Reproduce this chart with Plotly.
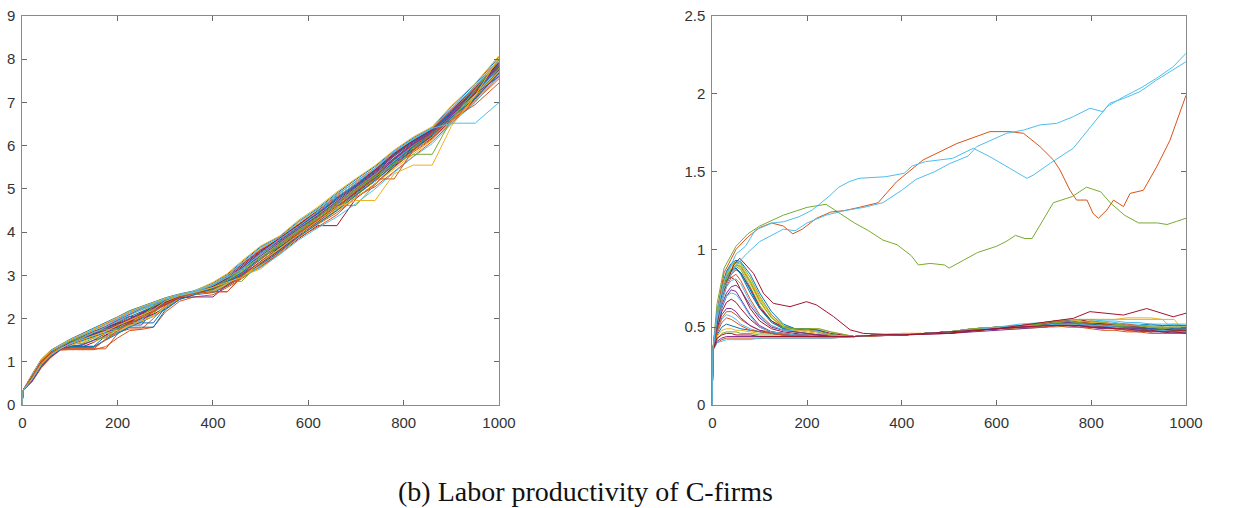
import plotly.graph_objects as go

# MATLAB default colour order
colors = ["#0072BD", "#D95319", "#EDB120", "#7E2F8E", "#77AC30", "#4DBEEE", "#A2142F"]

# ---------------- Left panel: labor productivity of every C-firm ----------------
xL = [0, 1, 20, 40, 60, 80, 100, 125, 150, 175, 200, 225, 250, 275, 300, 330, 360, 400,
      430, 460, 500, 540, 580, 620, 660, 700, 740, 780, 820, 860, 900, 950, 1000]

A1 = [0,0.33,0.70,1.06,1.27,1.40,1.52,1.65,1.78,1.90,2.04,2.18,2.28,2.38,2.48,2.57,2.64,2.82,3.02,3.30,3.66,3.90,4.25,4.55,4.90,5.22,5.52,5.88,6.18,6.42,6.90,7.42,8.05]
A2 = [0,0.33,0.68,1.04,1.25,1.38,1.50,1.62,1.74,1.88,2.00,2.15,2.26,2.36,2.46,2.55,2.62,2.78,3.00,3.25,3.60,3.88,4.20,4.50,4.85,5.18,5.48,5.85,6.15,6.40,6.85,7.38,8.00]
A3 = [0,0.33,0.66,1.02,1.23,1.36,1.47,1.58,1.60,1.60,1.90,2.10,2.22,2.33,2.44,2.54,2.61,2.75,2.96,3.22,3.55,3.85,4.18,4.45,4.80,5.12,5.42,5.80,6.12,6.38,6.80,7.32,7.95]
A4 = [0,0.33,0.64,1.00,1.21,1.34,1.45,1.56,1.68,1.80,1.95,2.05,2.05,2.30,2.42,2.53,2.60,2.72,2.92,3.18,3.52,3.82,4.15,4.42,4.78,5.08,5.40,5.78,6.10,6.35,6.78,7.30,7.90]
A5 = [0,0.33,0.62,0.98,1.19,1.33,1.42,1.42,1.55,1.75,1.92,2.08,2.20,2.30,2.40,2.52,2.60,2.70,2.88,3.12,3.48,3.78,4.10,4.40,4.75,5.05,5.38,5.75,6.08,6.33,6.75,7.28,7.88]
A6 = [0,0.33,0.60,0.95,1.17,1.32,1.44,1.55,1.65,1.70,1.70,1.95,2.15,2.28,2.40,2.51,2.59,2.68,2.85,3.08,3.45,3.75,4.08,4.38,4.72,5.02,5.35,5.72,6.05,6.30,6.72,7.25,7.85]
A7 = [0,0.33,0.58,0.93,1.15,1.30,1.40,1.50,1.62,1.78,1.88,2.00,2.12,2.25,2.38,2.50,2.58,2.66,2.82,3.05,3.40,3.72,4.05,4.35,4.68,5.00,5.32,5.70,6.02,6.28,6.70,7.22,7.82]
A8 = [0,0.33,0.56,0.90,1.13,1.29,1.36,1.36,1.36,1.60,1.80,1.98,2.10,2.22,2.36,2.49,2.57,2.64,2.80,3.02,3.38,3.70,4.02,4.32,4.65,4.98,5.30,5.66,6.00,6.25,6.68,7.20,7.78]
A9 = [0,0.33,0.54,0.88,1.11,1.28,1.30,1.30,1.30,1.30,1.65,1.85,2.00,2.15,2.32,2.47,2.56,2.62,2.62,2.95,3.32,3.65,3.98,4.28,4.60,4.92,5.25,5.62,5.95,6.22,6.65,7.15,7.72]
A10 = [0,0.33,0.67,1.03,1.24,1.37,1.48,1.60,1.72,1.85,1.98,2.12,2.24,2.34,2.45,2.54,2.62,2.80,3.00,3.28,3.62,3.86,4.22,4.52,4.88,5.15,5.45,5.82,6.14,6.39,6.82,7.35,7.98]
A11 = [0,0.33,0.63,0.99,1.20,1.33,1.43,1.53,1.63,1.73,1.85,1.85,1.85,2.20,2.42,2.52,2.60,2.72,2.90,3.15,3.50,3.80,4.12,4.42,4.76,5.06,5.38,5.76,6.08,6.34,6.76,7.28,7.88]
A12 = [0,0.33,0.61,0.97,1.18,1.32,1.42,1.52,1.62,1.72,1.82,1.92,2.02,2.12,2.36,2.50,2.58,2.70,2.86,3.10,3.42,3.74,4.05,4.36,4.70,5.02,5.33,5.68,6.04,6.30,6.72,7.24,7.84]
A13 = [0,0.33,0.59,0.94,1.16,1.31,1.39,1.48,1.58,1.68,1.78,1.88,1.98,2.08,2.30,2.48,2.57,2.66,2.84,3.06,3.38,3.70,4.02,4.30,4.62,4.95,5.28,5.64,6.00,6.26,6.68,7.18,7.80]
A14 = [0,0.33,0.57,0.92,1.14,1.30,1.34,1.34,1.45,1.62,1.76,1.90,2.00,2.10,2.25,2.46,2.56,2.62,2.78,3.00,3.32,3.66,3.98,4.28,4.58,4.90,5.24,5.60,5.96,6.22,6.64,7.14,7.74]
A15 = [0,0.33,0.55,0.89,1.12,1.28,1.32,1.40,1.50,1.58,1.68,1.80,1.92,2.05,2.22,2.44,2.55,2.60,2.75,2.96,3.28,3.60,3.95,4.22,4.52,4.85,5.18,5.55,5.90,6.18,6.60,7.10,7.70]
A16 = [0,0.33,0.53,0.86,1.10,1.27,1.28,1.28,1.28,1.35,1.55,1.72,1.75,1.80,2.15,2.40,2.50,2.55,2.72,2.92,3.22,3.55,3.90,4.18,4.45,4.80,5.10,5.50,5.85,6.15,6.55,7.05,7.60]
A17 = [0,0.33,0.69,1.05,1.26,1.39,1.51,1.63,1.76,1.89,2.02,2.16,2.27,2.37,2.47,2.56,2.63,2.84,3.04,3.33,3.68,3.91,4.28,4.58,4.93,5.24,5.54,5.90,6.20,6.44,6.92,7.44,8.08]
A18 = [0,0.33,0.65,1.01,1.22,1.35,1.46,1.57,1.69,1.82,1.96,2.10,2.23,2.33,2.43,2.53,2.61,2.76,2.98,3.24,3.58,3.84,4.16,4.47,4.82,5.10,5.42,5.79,6.12,6.36,6.79,7.30,7.93]
A19 = [0,0.33,0.62,0.98,1.19,1.33,1.44,1.54,1.64,1.74,1.86,1.98,2.10,2.22,2.34,2.50,2.58,2.70,2.86,2.86,3.30,3.68,4.00,4.30,4.62,4.62,5.10,5.50,5.95,6.25,6.65,7.15,7.75]
A20 = [0,0.33,0.60,0.95,1.17,1.31,1.41,1.51,1.61,1.71,1.84,1.96,2.08,2.20,2.40,2.53,2.60,2.72,2.84,2.95,3.30,3.62,3.95,4.25,4.58,4.73,4.73,5.35,5.55,5.55,6.45,7.15,8.05]
A21 = [0,0.33,0.64,1.00,1.21,1.30,1.30,1.30,1.30,1.52,1.72,1.88,2.02,2.16,2.34,2.50,2.58,2.62,2.62,2.98,3.30,3.62,3.98,4.28,4.58,4.95,5.23,5.23,5.90,6.30,6.60,6.95,7.45]
A22 = [0,0.33,0.58,0.93,1.15,1.30,1.42,1.54,1.68,1.80,1.94,2.08,2.22,2.33,2.44,2.54,2.61,2.77,2.95,3.14,3.50,3.84,4.14,4.48,4.82,5.12,5.48,5.88,6.14,6.40,6.52,6.52,7.00]
A23 = [0,0.33,0.63,0.99,1.21,1.34,1.47,1.57,1.69,1.75,1.75,1.88,2.04,2.28,2.44,2.54,2.60,2.72,2.90,3.14,3.40,3.70,4.04,4.34,4.68,4.98,5.28,5.58,5.80,5.80,6.60,7.28,7.98]
A24 = [0,0.33,0.55,0.90,1.12,1.28,1.40,1.52,1.64,1.72,1.80,1.98,2.14,2.24,2.34,2.48,2.50,2.50,2.78,2.98,3.28,3.58,3.94,4.24,4.58,4.94,5.28,5.68,6.04,6.30,6.70,7.20,7.60]
A25 = [0,0.33,0.56,0.91,1.14,1.29,1.35,1.35,1.35,1.50,1.65,1.80,1.80,1.80,2.20,2.45,2.55,2.70,2.85,3.00,3.25,3.55,3.90,4.20,4.50,4.85,5.20,5.55,5.90,6.25,6.65,7.10,7.65]
A26 = [0,0.33,0.66,1.02,1.24,1.36,1.49,1.61,1.73,1.86,1.99,2.13,2.25,2.35,2.45,2.55,2.62,2.79,2.99,3.27,3.64,3.87,4.24,4.53,4.87,5.17,5.47,5.84,6.16,6.41,6.86,7.37,7.99]
A27 = [0,0.33,0.59,0.94,1.16,1.31,1.43,1.53,1.63,1.73,1.83,1.94,2.06,2.18,2.36,2.50,2.58,2.68,2.80,2.98,3.20,3.50,3.85,4.15,4.15,4.78,5.12,5.52,5.88,6.18,6.58,7.08,7.68]
A28 = [0,0.33,0.61,0.96,1.18,1.32,1.43,1.54,1.66,1.77,1.90,2.04,2.16,2.27,2.40,2.52,2.60,2.74,2.92,3.16,3.54,3.83,4.13,4.44,4.78,5.08,5.42,5.80,6.10,6.36,6.78,7.28,7.88]
A29 = [0,0.33,0.56,0.90,1.13,1.28,1.33,1.33,1.33,1.52,1.68,1.76,1.76,2.00,2.30,2.46,2.55,2.64,2.76,2.95,3.20,3.52,3.88,4.12,4.40,4.82,5.05,5.40,5.76,6.10,6.52,7.02,7.55]
A30 = [0,0.33,0.60,0.95,1.17,1.31,1.40,1.46,1.46,1.58,1.70,1.82,1.95,2.05,2.28,2.47,2.56,2.62,2.80,2.98,3.15,3.50,3.88,4.18,4.48,4.80,5.12,5.46,5.82,6.14,6.58,7.10,7.72]
A31 = [0,0.33,0.62,0.97,1.19,1.32,1.38,1.38,1.50,1.66,1.82,1.94,1.94,2.18,2.38,2.51,2.59,2.66,2.82,3.02,3.30,3.58,3.92,4.26,4.56,4.88,5.18,5.58,5.92,6.20,6.62,7.12,7.75]
A32 = [0,0.33,0.64,1.00,1.21,1.33,1.44,1.55,1.55,1.55,1.78,1.98,2.12,2.24,2.36,2.50,2.59,2.66,2.82,3.00,3.26,3.60,3.95,4.24,4.55,4.88,5.22,5.60,5.98,6.24,6.68,7.20,7.80]
A33 = [0,0.33,0.58,0.93,1.15,1.30,1.41,1.51,1.60,1.66,1.66,1.82,1.98,2.18,2.34,2.48,2.57,2.64,2.80,2.98,3.18,3.48,3.82,4.10,4.35,4.66,5.00,5.38,5.74,6.05,6.50,7.00,7.62]
A34 = [0,0.33,0.65,1.01,1.22,1.34,1.46,1.58,1.70,1.80,1.90,1.90,2.12,2.26,2.38,2.51,2.60,2.74,2.94,3.20,3.56,3.86,4.18,4.48,4.82,5.12,5.44,5.82,6.12,6.38,6.82,7.34,7.92]
A35 = [0,0.33,0.59,0.94,1.16,1.30,1.40,1.49,1.58,1.66,1.76,1.88,1.90,1.90,2.26,2.49,2.58,2.68,2.86,3.06,3.40,3.66,3.94,4.26,4.58,4.92,5.26,5.62,5.98,6.28,6.70,7.22,7.82]
A36 = [0,0.33,0.61,0.96,1.18,1.32,1.42,1.52,1.62,1.72,1.82,1.95,2.06,2.16,2.32,2.49,2.58,2.68,2.84,3.04,3.36,3.70,4.00,4.30,4.64,4.96,5.30,5.68,6.02,6.28,6.72,7.24,7.86]
A37 = [0,0.33,0.57,0.92,1.14,1.29,1.37,1.46,1.56,1.66,1.74,1.84,1.94,2.05,2.26,2.46,2.56,2.64,2.80,2.98,3.22,3.56,3.90,4.22,4.52,4.85,5.18,5.55,5.88,6.20,6.62,7.14,7.72]
A38 = [0,0.33,0.63,0.98,1.20,1.33,1.43,1.53,1.63,1.74,1.86,1.98,2.10,2.20,2.32,2.50,2.59,2.72,2.90,3.14,3.46,3.76,4.08,4.38,4.72,5.04,5.36,5.72,6.06,6.32,6.74,7.26,7.86]
left_bulk = [A1, A2, A3, A4, A5, A6, A7, A8, A9, A10, A11, A12, A13, A14, A15, A16, A17, A18, A19,
             A26, A27, A28, A29, A30, A31, A32, A33, A34, A35, A36, A37, A38]
# laggard firms with visible plateaus, with the colour index each one has in the picture
left_laggards = [(A25, 0), (A24, 3), (A23, 4), (A21, 1), (A20, 2), (A22, 5)]

# ---------------- Right panel: bulk of firms ----------------
xR = [0, 1, 10, 20, 30, 40, 50, 60, 80, 100, 125, 150, 175, 200, 225, 250,
      300, 350, 400, 450, 500, 550, 600, 650, 700, 725, 750, 775, 800, 825, 850, 875, 900, 925, 950, 975, 1000]

C1 = [0,0.35,0.55,0.70,0.80,0.86,0.88,0.84,0.72,0.62,0.54,0.49,0.47,0.46,0.45,0.44,
      0.44,0.445,0.45,0.46,0.47,0.49,0.50,0.51,0.52,0.53,0.52,0.54,0.52,0.51,0.52,0.50,0.49,0.50,0.48,0.49,0.48]
C2 = [0,0.35,0.52,0.66,0.76,0.82,0.84,0.80,0.68,0.58,0.51,0.48,0.47,0.46,0.45,0.44,
      0.44,0.45,0.455,0.46,0.47,0.48,0.49,0.50,0.51,0.52,0.51,0.53,0.53,0.52,0.52,0.51,0.50,0.49,0.49,0.48,0.47]
C3 = [0,0.35,0.58,0.74,0.84,0.90,0.92,0.90,0.80,0.68,0.58,0.51,0.48,0.47,0.46,0.45,
      0.44,0.45,0.46,0.46,0.47,0.48,0.50,0.51,0.53,0.54,0.55,0.55,0.55,0.55,0.55,0.56,0.56,0.56,0.55,0.48,0.47]
C4 = [0,0.35,0.50,0.62,0.70,0.74,0.73,0.68,0.58,0.51,0.47,0.46,0.45,0.45,0.44,0.44,
      0.44,0.445,0.45,0.455,0.46,0.48,0.49,0.50,0.50,0.51,0.52,0.51,0.50,0.49,0.50,0.48,0.47,0.48,0.47,0.46,0.47]
C5 = [0,0.35,0.55,0.70,0.80,0.86,0.89,0.87,0.76,0.64,0.54,0.49,0.48,0.48,0.47,0.45,
      0.44,0.45,0.45,0.46,0.47,0.48,0.50,0.51,0.52,0.51,0.53,0.52,0.51,0.52,0.51,0.50,0.49,0.50,0.50,0.49,0.50]
C6 = [0,0.35,0.47,0.55,0.58,0.57,0.55,0.52,0.49,0.47,0.46,0.45,0.45,0.44,0.44,0.44,
      0.44,0.45,0.45,0.46,0.47,0.49,0.50,0.51,0.52,0.53,0.53,0.54,0.55,0.54,0.53,0.52,0.52,0.51,0.51,0.52,0.51]
C7 = [0,0.35,0.56,0.72,0.80,0.82,0.80,0.74,0.62,0.54,0.49,0.47,0.46,0.45,0.45,0.44,
      0.44,0.45,0.45,0.46,0.47,0.48,0.49,0.51,0.53,0.54,0.54,0.53,0.52,0.51,0.51,0.50,0.49,0.49,0.48,0.48,0.48]
C8 = [0,0.35,0.45,0.50,0.52,0.51,0.50,0.49,0.48,0.47,0.46,0.45,0.45,0.44,0.44,0.44,
      0.44,0.45,0.45,0.46,0.47,0.48,0.50,0.51,0.52,0.52,0.52,0.51,0.51,0.50,0.50,0.49,0.49,0.48,0.49,0.48,0.48]
C9 = [0,0.35,0.40,0.42,0.43,0.43,0.43,0.43,0.43,0.43,0.43,0.43,0.43,0.43,0.43,0.43,
      0.44,0.445,0.45,0.46,0.47,0.48,0.49,0.50,0.51,0.52,0.53,0.53,0.54,0.53,0.52,0.52,0.51,0.50,0.50,0.49,0.49]
C10 = [0,0.35,0.57,0.73,0.83,0.88,0.90,0.88,0.78,0.66,0.56,0.50,0.49,0.49,0.49,0.47,
       0.44,0.45,0.45,0.46,0.46,0.48,0.49,0.50,0.51,0.52,0.52,0.54,0.55,0.55,0.55,0.55,0.55,0.55,0.55,0.55,0.46]
C11 = [0,0.35,0.52,0.64,0.72,0.76,0.77,0.74,0.64,0.56,0.50,0.48,0.47,0.46,0.45,0.45,
       0.44,0.45,0.45,0.46,0.47,0.48,0.49,0.50,0.51,0.51,0.51,0.50,0.50,0.49,0.50,0.49,0.48,0.47,0.48,0.47,0.47]
C12 = [0,0.35,0.42,0.46,0.47,0.47,0.47,0.46,0.46,0.45,0.45,0.45,0.44,0.44,0.44,0.44,
       0.44,0.45,0.45,0.46,0.46,0.48,0.49,0.50,0.51,0.52,0.52,0.52,0.52,0.51,0.51,0.50,0.50,0.49,0.49,0.48,0.48]
C13 = [0,0.35,0.40,0.41,0.42,0.42,0.42,0.42,0.42,0.43,0.43,0.43,0.43,0.43,0.43,0.43,
       0.44,0.45,0.45,0.46,0.47,0.49,0.50,0.51,0.52,0.53,0.53,0.53,0.53,0.52,0.52,0.51,0.51,0.51,0.50,0.50,0.50]
C14 = [0,0.35,0.54,0.68,0.78,0.84,0.87,0.85,0.75,0.63,0.54,0.50,0.49,0.49,0.48,0.46,
       0.44,0.45,0.45,0.46,0.47,0.49,0.50,0.51,0.52,0.53,0.54,0.55,0.53,0.52,0.52,0.51,0.50,0.49,0.49,0.49,0.49]
C15 = [0,0.35,0.56,0.72,0.82,0.87,0.88,0.85,0.74,0.62,0.53,0.49,0.49,0.49,0.48,0.45,
       0.44,0.45,0.45,0.46,0.47,0.48,0.50,0.50,0.51,0.52,0.52,0.52,0.52,0.52,0.51,0.51,0.51,0.52,0.51,0.51,0.51]
C16 = [0,0.35,0.48,0.56,0.60,0.60,0.58,0.55,0.51,0.48,0.47,0.46,0.45,0.45,0.44,0.44,
       0.44,0.445,0.45,0.46,0.47,0.48,0.49,0.50,0.51,0.51,0.52,0.51,0.51,0.50,0.49,0.48,0.48,0.47,0.48,0.47,0.47]
C17 = [0,0.35,0.44,0.48,0.49,0.49,0.48,0.48,0.47,0.46,0.46,0.45,0.45,0.44,0.44,0.44,
       0.44,0.45,0.46,0.46,0.47,0.48,0.49,0.49,0.50,0.50,0.51,0.52,0.52,0.52,0.51,0.51,0.50,0.50,0.49,0.49,0.49]
C18 = [0,0.35,0.50,0.58,0.62,0.62,0.60,0.56,0.51,0.48,0.46,0.45,0.45,0.44,0.44,0.44,
       0.44,0.45,0.45,0.46,0.46,0.47,0.48,0.49,0.50,0.51,0.51,0.51,0.50,0.50,0.49,0.49,0.48,0.47,0.47,0.47,0.47]
C19 = [0,0.35,0.58,0.75,0.85,0.90,0.92,0.91,0.82,0.70,0.58,0.51,0.49,0.48,0.47,0.45,
       0.44,0.45,0.45,0.46,0.47,0.49,0.50,0.51,0.52,0.53,0.53,0.52,0.52,0.51,0.51,0.50,0.50,0.50,0.50,0.50,0.50]
C20 = [0,0.35,0.53,0.67,0.76,0.80,0.81,0.78,0.66,0.57,0.51,0.48,0.48,0.48,0.47,0.45,
       0.44,0.45,0.45,0.46,0.47,0.49,0.50,0.52,0.53,0.54,0.54,0.55,0.55,0.54,0.54,0.53,0.53,0.52,0.52,0.52,0.52]
C21 = [0,0.35,0.49,0.60,0.66,0.68,0.66,0.62,0.55,0.50,0.47,0.46,0.45,0.45,0.44,0.44,
       0.44,0.45,0.45,0.46,0.46,0.48,0.49,0.51,0.52,0.54,0.54,0.53,0.53,0.52,0.52,0.51,0.50,0.49,0.49,0.48,0.48]
C22 = [0,0.35,0.59,0.76,0.86,0.91,0.93,0.92,0.84,0.72,0.60,0.52,0.49,0.48,0.47,0.45,
       0.44,0.45,0.45,0.46,0.47,0.48,0.50,0.51,0.52,0.52,0.53,0.52,0.52,0.51,0.50,0.50,0.50,0.49,0.50,0.49,0.49]
C23 = [0,0.35,0.46,0.53,0.56,0.55,0.53,0.51,0.48,0.47,0.46,0.45,0.44,0.44,0.44,0.44,
       0.44,0.45,0.45,0.46,0.47,0.48,0.49,0.50,0.50,0.51,0.50,0.50,0.49,0.48,0.48,0.47,0.47,0.46,0.46,0.46,0.46]
C24 = [0,0.35,0.57,0.74,0.84,0.89,0.91,0.89,0.80,0.69,0.57,0.50,0.48,0.48,0.47,0.45,
       0.44,0.45,0.46,0.46,0.47,0.49,0.50,0.51,0.53,0.54,0.55,0.54,0.53,0.53,0.52,0.51,0.51,0.50,0.50,0.50,0.50]
C25 = [0,0.35,0.41,0.43,0.44,0.44,0.44,0.44,0.44,0.44,0.44,0.44,0.44,0.44,0.44,0.44,
       0.44,0.45,0.45,0.46,0.47,0.48,0.49,0.50,0.52,0.52,0.53,0.52,0.51,0.51,0.50,0.49,0.49,0.48,0.48,0.47,0.47]
C26 = [0,0.35,0.55,0.71,0.81,0.87,0.90,0.89,0.79,0.67,0.56,0.50,0.49,0.49,0.49,0.47,
       0.44,0.45,0.45,0.46,0.47,0.49,0.50,0.51,0.52,0.53,0.54,0.53,0.54,0.53,0.52,0.51,0.51,0.50,0.49,0.50,0.50]
C27 = [0,0.35,0.51,0.63,0.70,0.72,0.71,0.67,0.57,0.50,0.47,0.46,0.45,0.45,0.44,0.44,
       0.44,0.45,0.45,0.46,0.47,0.48,0.50,0.51,0.51,0.52,0.52,0.52,0.51,0.51,0.50,0.49,0.48,0.48,0.48,0.47,0.47]
C28 = [0,0.35,0.43,0.45,0.46,0.46,0.45,0.45,0.45,0.44,0.44,0.44,0.44,0.44,0.44,0.44,
       0.44,0.45,0.45,0.46,0.47,0.48,0.49,0.50,0.51,0.51,0.51,0.51,0.50,0.50,0.49,0.49,0.48,0.48,0.47,0.47,0.46]
right_series = [C1, C2, C3, C4, C5, C6, C7, C8, C9, C10, C11, C12, C13, C14,
                C15, C16, C17, C18, C19, C20, C21, C22, C23, C24, C25, C26, C27, C28]

# Outlier firms (right panel)
cyanA_x = [0, 1, 10, 25, 50, 70, 91, 127, 151, 183, 211, 246, 267, 289, 310, 366, 405, 422, 450, 507,
           551, 586, 628, 664, 678, 713, 762, 797, 833, 868, 903, 938, 973, 1000]
cyanA_y = [0, 0.35, 0.60, 0.80, 0.97, 1.02, 1.125, 1.17, 1.178, 1.21, 1.253, 1.34, 1.40, 1.435, 1.457, 1.467, 1.489, 1.536, 1.564, 1.585,
           1.65, 1.596, 1.521, 1.457, 1.478, 1.553, 1.65, 1.778, 1.917, 1.98, 2.035, 2.10, 2.174, 2.26]
cyanB_x = [0, 1, 10, 25, 50, 75, 100, 130, 150, 175, 200, 240, 280, 320, 360, 400, 430, 470, 500, 540,
           558, 621, 657, 692, 727, 762, 797, 825, 839, 868, 903, 938, 973, 1000]
cyanB_y = [0, 0.35, 0.55, 0.75, 0.90, 0.98, 1.05, 1.10, 1.13, 1.12, 1.17, 1.22, 1.25, 1.27, 1.30, 1.38, 1.45, 1.50, 1.55, 1.60,
           1.66, 1.746, 1.767, 1.80, 1.81, 1.853, 1.907, 1.885, 1.939, 1.97, 2.014, 2.089, 2.153, 2.206]
orange_x = [0, 1, 10, 25, 50, 75, 100, 125, 150, 170, 190, 220, 250, 280, 310, 350, 389, 445, 516, 586, 628,
            657, 692, 720, 734, 755, 769, 791, 804, 815, 833, 847, 868, 882, 910, 938, 966, 1000]
orange_y = [0, 0.35, 0.60, 0.85, 1.00, 1.08, 1.14, 1.17, 1.15, 1.10, 1.13, 1.20, 1.24, 1.25, 1.27, 1.30, 1.435, 1.575, 1.68, 1.757, 1.757,
            1.746, 1.66, 1.575, 1.51, 1.38, 1.317, 1.317, 1.23, 1.20, 1.253, 1.317, 1.275, 1.36, 1.38, 1.53, 1.70, 1.99]
green_x = [0, 1, 10, 25, 50, 75, 100, 150, 200, 240, 270, 300, 330, 360, 390, 420, 435, 460, 490, 500, 530,
           560, 600, 620, 640, 660, 675, 700, 720, 760, 790, 820, 840, 870, 900, 940, 960, 980, 1000]
green_y = [0, 0.35, 0.65, 0.88, 1.02, 1.10, 1.15, 1.22, 1.27, 1.29, 1.23, 1.17, 1.12, 1.06, 1.03, 0.96, 0.90, 0.91, 0.90, 0.88, 0.93,
           0.98, 1.02, 1.05, 1.09, 1.07, 1.07, 1.20, 1.30, 1.34, 1.40, 1.37, 1.30, 1.22, 1.17, 1.17, 1.16, 1.18, 1.20]
crimson_x = [0, 1, 20, 45, 58, 87, 108, 129, 164, 199, 220, 256, 291, 319, 400, 500, 600, 700, 762, 797, 868, 917, 950, 973, 1000]
crimson_y = [0, 0.35, 0.70, 0.90, 0.943, 0.846, 0.718, 0.653, 0.632, 0.664, 0.643, 0.568, 0.483, 0.46, 0.45, 0.46, 0.49, 0.53, 0.557, 0.60, 0.578, 0.62, 0.59, 0.567, 0.59]

# Axis ticks and caption
xticks = [0, 200, 400, 600, 800, 1000]
yticksL = [0, 1, 2, 3, 4, 5, 6, 7, 8, 9]
yticksR = [0, 0.5, 1, 1.5, 2, 2.5]
yticksR_text = ["0", "0.5", "1", "1.5", "2", "2.5"]
caption = "(b) Labor productivity of C-firms"

fig = go.Figure()
for i, s in enumerate(left_bulk):
    fig.add_trace(go.Scatter(x=xL, y=s, mode="lines", xaxis="x", yaxis="y",
                             line=dict(color=colors[i % 7], width=1), showlegend=False))
for s, ci in left_laggards:
    fig.add_trace(go.Scatter(x=xL, y=s, mode="lines", xaxis="x", yaxis="y",
                             line=dict(color=colors[ci], width=1), showlegend=False))
for i, s in enumerate(right_series):
    fig.add_trace(go.Scatter(x=xR, y=s, mode="lines", xaxis="x2", yaxis="y2",
                             line=dict(color=colors[i % 7], width=1), showlegend=False))
for xs, ys, c in [(crimson_x, crimson_y, colors[6]), (green_x, green_y, colors[4]),
                  (orange_x, orange_y, colors[1]), (cyanB_x, cyanB_y, colors[5]),
                  (cyanA_x, cyanA_y, colors[5])]:
    fig.add_trace(go.Scatter(x=xs, y=ys, mode="lines", xaxis="x2", yaxis="y2",
                             line=dict(color=c, width=1), showlegend=False))

axis_common = dict(showgrid=False, zeroline=False, showline=True, linecolor="#8a8a8a", linewidth=1,
                   mirror="ticks", ticks="inside", ticklen=5, tickcolor="#6a6a6a", tickwidth=1,
                   automargin=False,
                   tickfont=dict(family="Liberation Sans, Arial, sans-serif", size=15, color="#333333"))

ydom = [(508 - 405) / 508, (508 - 16) / 508]
fig.update_layout(
    width=1234, height=508, margin=dict(l=0, r=0, t=0, b=0, autoexpand=False),
    paper_bgcolor="white", plot_bgcolor="white",
    xaxis=dict(domain=[22.3 / 1234, 499 / 1234], range=[0, 1000], tickvals=xticks, anchor="y",
               ticklabelstandoff=4, **axis_common),
    yaxis=dict(domain=ydom, range=[0, 9], tickvals=yticksL, anchor="x", ticklabelstandoff=3, **axis_common),
    xaxis2=dict(domain=[712.3 / 1234, 1186 / 1234], range=[0, 1000], tickvals=xticks, anchor="y2",
                ticklabelstandoff=4, **axis_common),
    yaxis2=dict(domain=ydom, range=[0, 2.5], tickvals=yticksR, ticktext=yticksR_text, anchor="x2",
                ticklabelstandoff=3, **axis_common),
    annotations=[dict(text=caption, x=585 / 1234, y=(508 - 491) / 508, xref="paper", yref="paper",
                      showarrow=False, xanchor="center", yanchor="middle",
                      font=dict(family="Liberation Serif, Times New Roman, serif", size=28, color="#111111"))],
)

fig.write_html("out.html")
